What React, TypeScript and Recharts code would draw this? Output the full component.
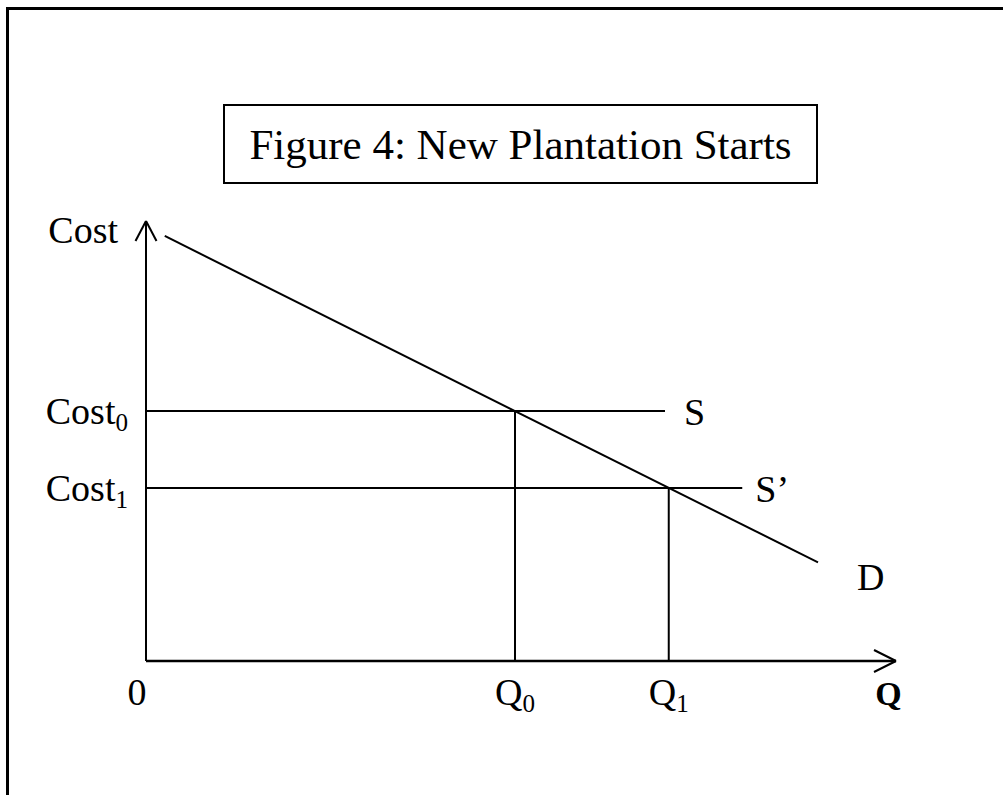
import {
  Line,
  LineChart,
  ReferenceLine,
  XAxis,
  YAxis
} from 'recharts';

// demand curve end points
const demandQ = [0.25, 8.96];
const demandCost = [9.66, 2.24];

// supply lines (S, S') and where they meet D
const supplyLabels = ['S', 'S\u2019'];
const supplyCost = [5.68, 3.93];
const supplyEndQ = [6.92, 7.95];
const equilibriumQ = [4.92, 6.97];

const xTickValues = [0, 4.92, 6.97, 9.9];
const xTickLabels = ['0', 'Q0', 'Q1', 'Q'];
const yTickValues = [3.93, 5.68, 9.8];
const yTickLabels = ['Cost1', 'Cost0', 'Cost'];

const demandData = demandQ.map((q, i) => ({ q, cost: demandCost[i] }));

const FONT = '"Liberation Serif", "Times New Roman", serif';
const SIZE = 38;

function withSub(label: string) {
  const last = label.slice(-1);
  if (label.length > 1 && /[0-9]/.test(last)) {
    return (
      <>
        {label.slice(0, -1)}
        <tspan fontSize={SIZE * 0.66} dy={7}>{last}</tspan>
      </>
    );
  }
  return label;
}

function XTick(props: any) {
  const { x, y, index } = props;
  const label = xTickLabels[index];
  const bold = label === 'Q';
  return (
    <text
      x={x + (label === '0' ? -9 : 0)}
      y={y + 44}
      textAnchor="middle"
      fontFamily={FONT}
      fontSize={bold ? 34 : SIZE}
      fontWeight={bold ? 'bold' : 'normal'}
      fill="#000"
    >
      {withSub(label)}
    </text>
  );
}

function YTick(props: any) {
  const { x, y, index } = props;
  const label = yTickLabels[index];
  return (
    <text
      x={x - (label === 'Cost' ? 28 : 18)}
      y={y + 13}
      textAnchor="end"
      fontFamily={FONT}
      fontSize={SIZE}
      fill="#000"
    >
      {withSub(label)}
    </text>
  );
}

function DLabel(props: any) {
  const { x, y, index } = props;
  if (index !== demandData.length - 1) return null;
  return (
    <text x={x + 39} y={y + 28} fontFamily={FONT} fontSize={SIZE} fill="#000">
      D
    </text>
  );
}

export default function App() {
  return (
    <div style={{ position: 'absolute', left: 0, top: 0, width: 1003, height: 795, background: '#fff', overflow: 'hidden' }}>
      <div
        style={{
          position: 'absolute',
          left: 6,
          top: 7,
          width: 1010,
          height: 800,
          borderLeft: '3px solid #000',
          borderTop: '3px solid #000'
        }}
      />
      <LineChart
        width={1003}
        height={795}
        data={demandData}
        margin={{ top: 221, right: 107, left: 60, bottom: 74 }}
      >
        <XAxis
          dataKey="q"
          type="number"
          domain={[0, 10]}
          ticks={xTickValues}
          interval={0}
          height={60}
          tickSize={0}
          tickMargin={0}
          tickLine={false}
          axisLine={{ stroke: '#000', strokeWidth: 2.5 }}
          tick={<XTick />}
        />
        <YAxis
          type="number"
          domain={[0, 10]}
          ticks={yTickValues}
          interval={0}
          width={86}
          tickSize={0}
          tickMargin={0}
          tickLine={false}
          axisLine={{ stroke: '#000', strokeWidth: 2 }}
          tick={<YTick />}
        />
        {/* axis arrow heads */}
        <ReferenceLine segment={[{ x: 9.707, y: 0.25 }, { x: 10, y: 0 }]} stroke="#000" strokeWidth={2} ifOverflow="visible" />
        <ReferenceLine segment={[{ x: 9.707, y: -0.25 }, { x: 10, y: 0 }]} stroke="#000" strokeWidth={2} ifOverflow="visible" />
        <ReferenceLine segment={[{ x: -0.14, y: 9.545 }, { x: 0, y: 10 }]} stroke="#000" strokeWidth={2} ifOverflow="visible" />
        <ReferenceLine segment={[{ x: 0.14, y: 9.545 }, { x: 0, y: 10 }]} stroke="#000" strokeWidth={2} ifOverflow="visible" />

        {supplyCost.map((c, i) => (
          <ReferenceLine
            key={supplyLabels[i]}
            segment={[{ x: 0, y: c }, { x: supplyEndQ[i], y: c }]}
            stroke="#000"
            strokeWidth={2}
            label={{
              value: supplyLabels[i],
              position: 'right',
              offset: i === 0 ? 19 : 13,
              fill: '#000',
              fontSize: SIZE,
              fontFamily: FONT
            }}
          />
        ))}
        {equilibriumQ.map((q, i) => (
          <ReferenceLine
            key={'v' + i}
            segment={[{ x: q, y: 0 }, { x: q, y: supplyCost[i] }]}
            stroke="#000"
            strokeWidth={2}
          />
        ))}
        <Line
          type="linear"
          dataKey="cost"
          stroke="#000"
          strokeWidth={2}
          dot={false}
          activeDot={false}
          label={<DLabel />}
          isAnimationActive={false}
        />
      </LineChart>
      <div
        style={{
          position: 'absolute',
          left: 223,
          top: 104,
          width: 595,
          height: 80,
          boxSizing: 'border-box',
          border: '2px solid #000',
          display: 'flex',
          alignItems: 'center',
          justifyContent: 'center',
          fontFamily: FONT,
          fontSize: 43,
          color: '#000'
        }}
      >
        Figure 4: New Plantation Starts
      </div>
    </div>
  );
}
